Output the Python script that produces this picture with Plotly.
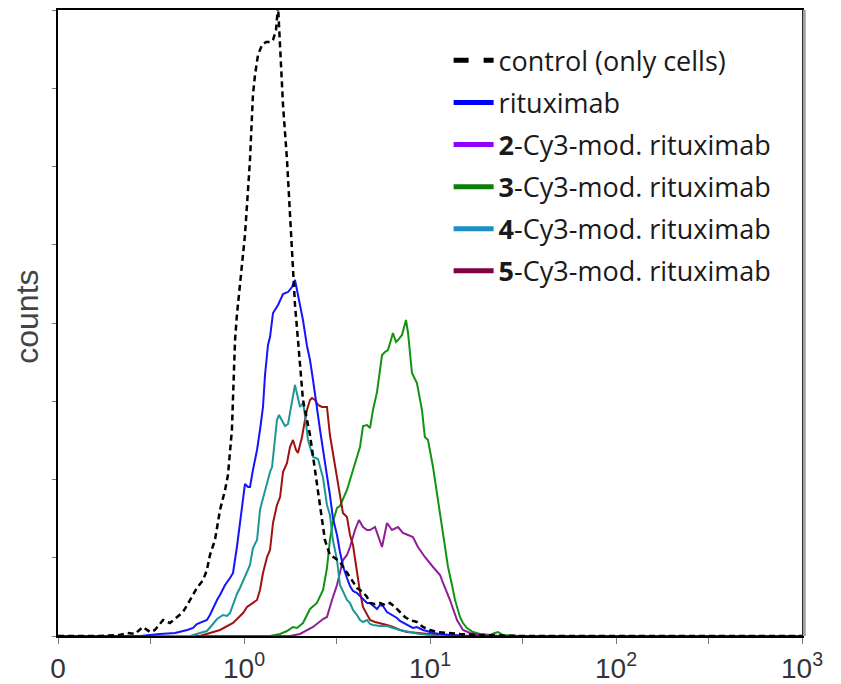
import plotly.graph_objects as go

# Fluorescence intensity (x) and counts (arbitrary units)
ctrl_x = [0.1, 0.168, 0.215, 0.235, 0.259, 0.286, 0.313, 0.332, 0.367, 0.400, 0.437, 0.470, 0.495, 0.525,
          0.558, 0.603, 0.632, 0.656, 0.698, 0.743, 0.791, 0.820, 0.861, 0.895, 0.916, 0.951, 1.012, 1.038,
          1.077, 1.117, 1.146, 1.189, 1.250, 1.313, 1.380, 1.432, 1.486, 1.524, 1.563, 1.621, 1.703, 1.767,
          1.834, 1.880, 1.951, 2.075, 2.264, 2.409, 2.564, 2.723, 2.897, 3.081, 3.281, 3.490, 3.715, 4.052,
          4.363, 4.586, 4.758, 5.061, 5.384, 5.727, 6.092, 6.479, 6.892, 7.331, 7.798, 8.504, 9.154, 10.0,
          10.91, 12.35, 14.50, 18.57, 30.5, 1000]
ctrl_y = [0, 0, 1, 3, 2, 9, 4, 6, 16, 13, 19, 24, 31, 39,
          48, 56, 66, 81, 96, 126, 146, 161, 206, 296, 321, 351, 401, 431,
          476, 541, 561, 581, 591, 594, 594, 596, 606, 630, 586, 531, 476, 426,
          366, 331, 296, 236, 201, 166, 126, 96, 81, 78, 74, 66, 59, 48,
          44, 39, 33, 32, 33, 31, 33, 29, 24, 19, 16, 14, 9, 6,
          4, 3, 2, 1, 0, 0]

ritu_x = [0.1, 0.276, 0.353, 0.426, 0.495, 0.532, 0.558, 0.603, 0.632, 0.656, 0.681, 0.716, 0.743, 0.791,
          0.841, 0.873, 0.916, 0.951, 0.989, 1.012, 1.051, 1.077, 1.117, 1.175, 1.219, 1.265, 1.297, 1.346,
          1.380, 1.432, 1.524, 1.621, 1.725, 1.811, 1.880, 2.000, 2.075, 2.181, 2.264, 2.350, 2.466, 2.564,
          2.661, 2.793, 2.897, 3.006, 3.162, 3.281, 3.404, 3.578, 3.715, 3.855, 4.052, 4.204, 4.363, 4.586,
          4.758, 4.937, 5.189, 5.384, 5.586, 5.871, 6.092, 6.320, 6.643, 6.892, 7.516, 8.091, 8.504, 9.154,
          9.621, 10.38, 11.32, 12.81, 16.39, 1000]
ritu_y = [0, 0, 2, 3, 6, 8, 12, 15, 16, 21, 28, 36, 41, 51,
          58, 63, 89, 111, 136, 152, 149, 149, 166, 186, 206, 229, 261, 291,
          299, 323, 331, 342, 344, 349, 356, 331, 316, 290, 276, 256, 231, 206,
          186, 161, 141, 118, 101, 84, 70, 58, 50, 45, 43, 40, 37, 33,
          33, 30, 27, 31, 30, 24, 22, 20, 18, 15, 11, 8, 9, 6,
          5, 3, 2, 1, 0, 0]

mod2_x = [0.1, 1.767, 2.000, 2.350, 2.661, 2.793, 2.972, 3.162, 3.404, 3.578, 3.715, 3.952, 4.150, 4.363,
          4.586, 4.758, 5.061, 5.251, 5.521, 5.871, 6.244, 6.728, 7.151, 7.621, 8.091, 8.614, 9.385, 10.38,
          11.32, 11.75, 12.81, 13.97, 15.04, 16.39, 18.57, 23.8, 1000]
mod2_y = [0, 0, 2, 9, 17, 19, 36, 51, 76, 81, 89, 106, 116, 109,
          106, 106, 109, 101, 89, 113, 106, 109, 103, 101, 99, 89, 79, 69,
          61, 53, 36, 16, 6, 3, 1, 0, 0]

mod3_x = [0.1, 1.380, 1.563, 1.703, 1.834, 1.927, 2.075, 2.264, 2.466, 2.564, 2.661, 2.793, 2.897, 3.006,
          3.162, 3.281, 3.578, 3.855, 4.204, 4.363, 4.586, 4.758, 4.937, 5.189, 5.384, 5.521, 5.727, 5.943,
          6.169, 6.320, 6.561, 6.728, 7.067, 7.430, 7.621, 7.798, 8.000, 8.504, 9.053, 9.385, 9.753, 10.38,
          11.04, 11.75, 12.50, 13.13, 13.63, 14.50, 15.04, 15.80, 17.03, 18.57, 21.0, 22.35, 23.2, 24.7,
          30.5, 1000]
mod3_y = [0, 0, 2, 5, 9, 8, 13, 27, 33, 40, 46, 68, 96, 114,
          128, 130, 146, 166, 189, 210, 211, 208, 226, 244, 266, 281, 284, 286,
          296, 303, 294, 296, 301, 316, 303, 281, 263, 253, 226, 199, 196, 169,
          136, 103, 69, 51, 36, 19, 13, 8, 4, 2, 1, 3, 4, 1,
          0, 0]

mod4_x = [0.1, 0.513, 0.579, 0.632, 0.681, 0.716, 0.771, 0.811, 0.841, 0.873, 0.916, 0.951, 0.989, 1.038,
          1.077, 1.117, 1.175, 1.219, 1.250, 1.297, 1.330, 1.380, 1.415, 1.468, 1.504, 1.543, 1.601, 1.661,
          1.725, 1.811, 1.880, 1.951, 2.000, 2.075, 2.128, 2.208, 2.350, 2.500, 2.661, 2.793, 2.897, 3.006,
          3.162, 3.281, 3.404, 3.578, 3.715, 3.855, 4.052, 4.204, 4.363, 4.586, 4.758, 4.937, 5.384, 5.871,
          6.320, 6.892, 7.798, 8.823, 11.32, 1000]
mod4_y = [0, 0, 3, 5, 12, 17, 21, 20, 23, 32, 42, 48, 56, 64,
          71, 88, 96, 126, 134, 146, 154, 164, 169, 196, 216, 221, 216, 210,
          212, 236, 251, 238, 229, 233, 221, 196, 179, 177, 158, 131, 121, 96,
          76, 51, 44, 36, 33, 26, 21, 16, 14, 16, 12, 11, 10, 10,
          8, 6, 4, 2, 0, 0]

mod5_x = [0.1, 0.579, 0.656, 0.743, 0.873, 0.989, 1.038, 1.117, 1.175, 1.219, 1.265, 1.330, 1.380, 1.432,
          1.504, 1.563, 1.621, 1.703, 1.767, 1.834, 1.905, 1.951, 2.050, 2.128, 2.181, 2.264, 2.320, 2.409,
          2.500, 2.626, 2.793, 2.897, 3.081, 3.281, 3.404, 3.578, 3.715, 3.855, 4.052, 4.204, 4.363, 4.586,
          4.758, 5.061, 5.384, 5.871, 6.320, 6.892, 7.516, 8.823, 11.32, 16.39, 1000]
mod5_y = [0, 0, 3, 6, 13, 23, 29, 33, 36, 46, 63, 79, 86, 113,
          131, 139, 164, 173, 189, 196, 186, 183, 199, 216, 226, 236, 238, 236,
          231, 229, 229, 201, 171, 141, 123, 119, 101, 91, 61, 44, 29, 21,
          16, 14, 13, 11, 9, 6, 4, 3, 1, 0, 0]

legend_names = ["control (only cells)", "rituximab",
                "<b>2</b>-Cy3-mod. rituximab", "<b>3</b>-Cy3-mod. rituximab",
                "<b>4</b>-Cy3-mod. rituximab", "<b>5</b>-Cy3-mod. rituximab"]
legend_colors = ["#000000", "#0000ff", "#8f00ff", "#0a800a", "#1e8ec8", "#800040"]

x_tickvals = [0.1, 1, 10, 100, 1000]
x_ticktext = ["0", "10<sup>0</sup>", "10<sup>1</sup>", "10<sup>2</sup>", "10<sup>3</sup>"]
x_minorvals = [0.3162, 3.162, 31.62, 316.2]

fig = go.Figure()

curves = [
    (mod3_x, mod3_y, "#129312", "solid", 2),
    (mod2_x, mod2_y, "#8e1f96", "solid", 2),
    (mod5_x, mod5_y, "#a01212", "solid", 2),
    (mod4_x, mod4_y, "#1e9696", "solid", 2),
    (ritu_x, ritu_y, "#1414ff", "solid", 2),
    (ctrl_x, ctrl_y, "#000000", "6px,4px", 2.5),
]
for xs, ys, col, dash, w in curves:
    fig.add_trace(go.Scatter(x=xs, y=ys, mode="lines", showlegend=False,
                             line=dict(color=col, width=w, dash=dash), hoverinfo="skip"))

for i, (name, col) in enumerate(zip(legend_names, legend_colors)):
    fig.add_trace(go.Scatter(x=[None], y=[None], mode="lines", name=name,
                             legendgroup="g%d" % i,
                             line=dict(color=col, width=5, dash="dash" if i == 0 else "solid")))

fig.update_layout(
    width=833, height=676,
    margin=dict(l=50, r=39, t=2, b=48, autoexpand=False),
    paper_bgcolor="white", plot_bgcolor="white",
    showlegend=True,
    legend=dict(x=0.525, y=0.958, xanchor="left", yanchor="top",
                font=dict(family="Open Sans", size=27, color="#1a1a1a"),
                tracegroupgap=4, bgcolor="rgba(0,0,0,0)", itemwidth=40),
    xaxis=dict(type="log", range=[-1, 3], tickvals=x_tickvals, ticktext=x_ticktext,
               ticks="outside", ticklen=6, tickcolor="#777", showgrid=False, zeroline=False,
               minor=dict(tickvals=x_minorvals, ticks="outside", ticklen=6, tickcolor="#777", showgrid=False),
               showline=True, linecolor="black", linewidth=2, mirror=True, automargin=False,
               tickfont=dict(family="Liberation Sans", size=28, color="#333")),
    yaxis=dict(range=[0, 626], tick0=0, dtick=78.25, ticks="outside", ticklen=4, tickcolor="#777",
               showticklabels=False, showgrid=False, zeroline=False, automargin=False,
               showline=True, linecolor="black", linewidth=1.5, mirror=True),
    annotations=[dict(text="counts", textangle=-90, xref="paper", yref="paper",
                      x=0, y=0.51, xanchor="center", yanchor="middle", xshift=-31, showarrow=False,
                      font=dict(family="Liberation Sans", size=32, color="#444"))],
    shapes=[dict(type="line", xref="paper", yref="paper", x0=1.003, x1=1.003, y0=0, y1=1,
                 line=dict(color="#a0a0a0", width=3))],
)

fig.write_html("out.html")
